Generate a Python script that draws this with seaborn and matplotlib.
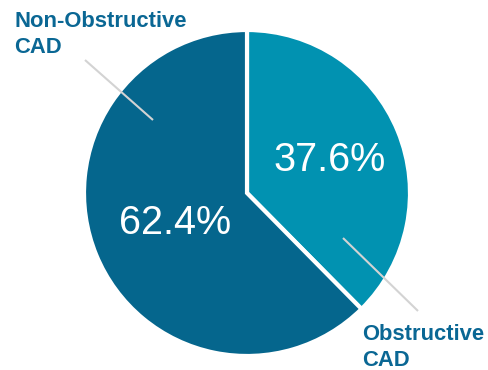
import matplotlib.pyplot as plt
import seaborn as sns

labels = ["Obstructive\nCAD", "Non-Obstructive\nCAD"]
shares = [37.6, 62.4]
colors = ["#0192b1", "#05668d"]

sns.set_theme(style="white")
plt.rcParams["font.family"] = ["Liberation Sans", "DejaVu Sans"]

fig = plt.figure(figsize=(4.89, 3.70), dpi=100)
ax = fig.add_axes([0, 0, 1, 1])

# pixel-based frame: center at (247, 193), radius 163 px
cx, cy, r = 247, 193, 163
wedges, _, autotexts = ax.pie(
    shares, colors=colors, startangle=90, counterclock=False,
    autopct="%.1f%%", pctdistance=0.58,
    wedgeprops={"edgecolor": "white", "linewidth": 3},
    textprops={"color": "white", "fontsize": 28.5},
)
ax.set_xlim(-cx / r, (489 - cx) / r)
ax.set_ylim(-(370 - cy) / r, cy / r)
ax.set_aspect("auto")


def px(x, y):
    return (x - cx) / r, (cy - y) / r


autotexts[0].set_position(px(330, 160))
autotexts[1].set_position(px(175, 223))

# leader lines
for (x0, y0), (x1, y1) in [((85, 60), (153, 120)), ((343, 238), (418, 311))]:
    a, b = px(x0, y0)
    c, d = px(x1, y1)
    ax.plot([a, c], [b, d], color="#d3d3d3", lw=1.5, solid_capstyle="butt")

lab_color = "#0a6794"
ax.text(*px(14, 11), labels[1], ha="left", va="top", fontsize=15.8,
        fontweight="bold", color=lab_color, linespacing=1.3)
ax.text(*px(362, 324), labels[0], ha="left", va="top", fontsize=15.8,
        fontweight="bold", color=lab_color, linespacing=1.3)

ax.axis("off")
fig.savefig("out.png", dpi=100)
